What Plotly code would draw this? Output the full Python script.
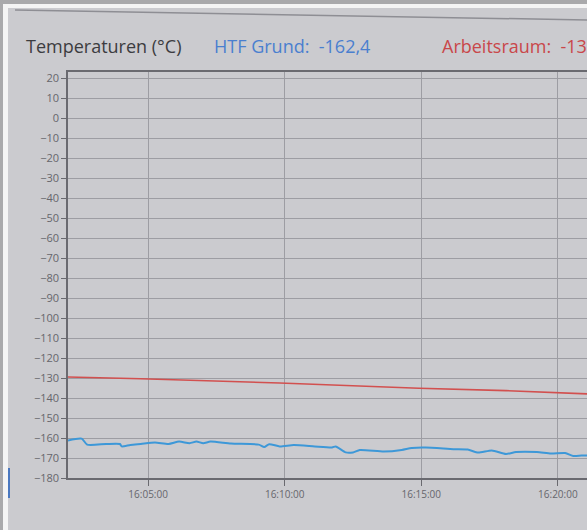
import plotly.graph_objects as go
from datetime import datetime, timedelta

# ---- data (seconds relative to 16:05:00, temperature in °C) ----
blue_secs = [-176, -146, -134, -92, -62, -58, -39, -16, 15, 45, 68, 91, 106, 121, 137,
             182, 243, 255, 266, 289, 320, 366, 404, 412, 434, 450, 465, 518, 557, 579,
             610, 671, 702, 725, 755, 786, 808, 854, 885, 916, 934, 952, 995]
blue_vals = [-161.2, -160.3, -163.3, -163.0, -163.0, -164.2, -163.5, -163.0, -162.3, -163.0,
             -161.8, -162.6, -161.8, -162.6, -161.8, -162.8, -163.3, -164.5, -163.1, -164.2,
             -163.5, -164.2, -164.7, -164.2, -167.2, -167.2, -166.0, -166.8, -166.0, -165.0,
             -164.8, -165.6, -165.8, -167.3, -166.2, -168.0, -167.0, -167.0, -167.8, -167.5,
             -169.0, -168.8, -168.5]
red_secs = [-176, -16, 289, 442, 595, 786, 952, 995]
red_vals = [-129.5, -130.4, -132.5, -133.9, -135.1, -136.3, -137.9, -138.2]

y_ticks = list(range(-180, 21, 10))
title_main = "Temperaturen (°C)"
label_blue = "HTF Grund:  -162,4"
label_red = "Arbeitsraum:  -133,6"

base = datetime(2024, 1, 1, 16, 5, 0)
bt = [base + timedelta(seconds=s) for s in blue_secs]
rt = [base + timedelta(seconds=s) for s in red_secs]
x0 = base + timedelta(seconds=-176)
x1 = base + timedelta(seconds=964)
xticks = [base + timedelta(minutes=m) for m in (0, 5, 10, 15)]

W, H = 587, 530
L, R, T, B = 68, 0, 72, 52
pw, ph = W - L - R, H - T - B

def px(x):
    return (x - L) / pw

def py(y):
    return (H - B - y) / ph

fig = go.Figure()
fig.add_trace(go.Scatter(x=rt, y=red_vals, mode="lines",
                         line=dict(color="#d2504f", width=1.6), hoverinfo="skip"))
fig.add_trace(go.Scatter(x=bt, y=blue_vals, mode="lines", line_shape="spline",
                         line=dict(color="#3d98d8", width=2, smoothing=0.6), hoverinfo="skip"))

shapes = []
# outer photo border: gray then white strip
shapes.append(dict(type="rect", xref="paper", yref="paper", x0=px(0), x1=px(W), y0=py(0), y1=py(4),
                   fillcolor="#a9a9ab", line=dict(width=0), layer="above"))
shapes.append(dict(type="rect", xref="paper", yref="paper", x0=px(0), x1=px(W), y0=py(4), y1=py(8),
                   fillcolor="#f4f4f4", line=dict(width=0), layer="above"))
shapes.append(dict(type="rect", xref="paper", yref="paper", x0=px(0), x1=px(3), y0=py(0), y1=py(H),
                   fillcolor="#a9a9ab", line=dict(width=0), layer="above"))
shapes.append(dict(type="rect", xref="paper", yref="paper", x0=px(3), x1=px(8), y0=py(4), y1=py(H),
                   fillcolor="#f4f4f4", line=dict(width=0), layer="above"))
# window edge line at the top
shapes.append(dict(type="line", xref="paper", yref="paper", x0=px(15), x1=px(W), y0=py(10), y1=py(20),
                   line=dict(color="#8e8e94", width=1.5)))
# blue edge at bottom left
shapes.append(dict(type="line", xref="paper", yref="paper", x0=px(9), x1=px(9), y0=py(468), y1=py(498),
                   line=dict(color="#4a78c0", width=2)))

annotations = [
    dict(text=title_main, x=px(24), y=py(46), xref="paper", yref="paper", xanchor="left",
         yanchor="middle", showarrow=False, font=dict(family="Open Sans", size=18, color="#3c3c40")),
    dict(text=label_blue, x=px(212), y=py(46), xref="paper", yref="paper", xanchor="left",
         yanchor="middle", showarrow=False, font=dict(family="Open Sans", size=18, color="#4a7fcf")),
    dict(text=label_red, x=px(440), y=py(46), xref="paper", yref="paper", xanchor="left",
         yanchor="middle", showarrow=False, font=dict(family="Open Sans", size=18, color="#c9474a")),
]

fig.update_layout(
    width=W, height=H,
    margin=dict(l=L, r=R, t=T, b=B, pad=0),
    paper_bgcolor="#cbcbcf", plot_bgcolor="#cbcbcf",
    showlegend=False,
    shapes=shapes, annotations=annotations,
    xaxis=dict(type="date", range=[x0, x1], tickvals=xticks, tickformat="%H:%M:%S",
               showgrid=True, gridcolor="#9d9da3", gridwidth=1,
               showline=True, linecolor="#6a6a70", linewidth=1.5, mirror=True,
               ticks="outside", ticklen=6, tickcolor="#6a6a70",
               tickfont=dict(family="Open Sans", size=10, color="#66666c"), zeroline=False),
    yaxis=dict(range=[-180, 23], tickvals=y_ticks,
               showgrid=True, gridcolor="#9d9da3", gridwidth=1,
               showline=True, linecolor="#6a6a70", linewidth=1.5,
               ticks="outside", ticklen=5, tickcolor="#6a6a70",
               tickfont=dict(family="Open Sans", size=11, color="#66666c"), zeroline=False),
)

fig.write_html("out.html", config={"displayModeBar": False},
               post_script="document.body.style.margin='0';document.body.style.padding='0';"
                           "document.body.style.overflow='hidden';")
